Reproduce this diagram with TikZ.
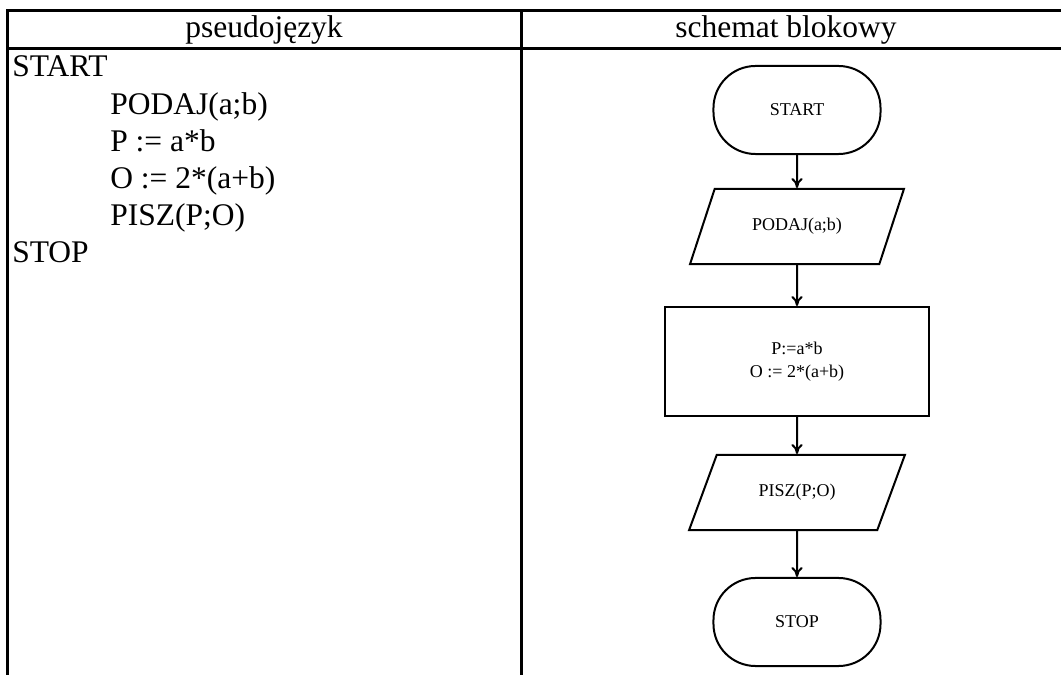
\documentclass[tikz,border=0pt]{standalone}
\usepackage{fontspec}
\setmainfont{Liberation Serif}
\usetikzlibrary{shapes.geometric,arrows.meta}

\tikzset{
  tabela/.style={line width=0.075cm},
  tekst/.style={inner sep=0pt,font=\fontsize{22.4}{26}\selectfont},
  blok/.style={draw,line width=0.05cm,font=\fontsize{12.8}{16}\selectfont,align=center},
  term/.style={blok,rectangle,rounded corners=1.05cm,minimum width=4.175cm,minimum height=2.2cm},
  wewy/.style={blok,trapezium,trapezium left angle=60,trapezium right angle=120,
    trapezium stretches=true,minimum width=5.4cm,minimum height=1.875cm},
  proces/.style={blok,rectangle,minimum width=6.575cm,minimum height=2.725cm},
}

\begin{document}
\begin{tikzpicture}[x=0.025cm,y=-0.025cm]
\useasboundingbox (0,0) rectangle (1061,675);
\begin{scope}[>={To[length=0.25cm,width=0.28cm]}]
% tabela
\draw[tabela] (7.5,675) -- (7.5,11) -- (1061,11);
\draw[tabela] (7.5,49) -- (1061,49);
\draw[tabela] (521,11) -- (521,675);

\node[tekst] (nag1) at (264,30) {pseudojęzyk};
\node[tekst] (nag2) at (786,30) {schemat blokowy};

% pseudojezyk
\node[tekst,anchor=base west] (p1) at (12,77) {START};
\node[tekst,anchor=base west] (p2) at (110,115) {PODAJ(a;b)};
\node[tekst,anchor=base west] (p3) at (110,152) {P := a*b};
\node[tekst,anchor=base west] (p4) at (110,189) {O := 2*(a+b)};
\node[tekst,anchor=base west] (p5) at (110,226) {PISZ(P;O)};
\node[tekst,anchor=base west] (p6) at (12,263) {STOP};

% schemat blokowy
\node[term] (start) at (797,110) {START};
\node[wewy] (podaj) at (797,226.5) {PODAJ(a;b)};
\node[proces] (oblicz) at (797,361.5) {P:=a*b\\ O := 2*(a+b)};
\node[wewy] (pisz) at (797,492.5) {PISZ(P;O)};
\node[term] (stop) at (797,622) {STOP};

\draw[->,line width=0.05cm] (start) -- (podaj);
\draw[->,line width=0.05cm] (podaj) -- (oblicz);
\draw[->,line width=0.05cm] (oblicz) -- (pisz);
\draw[->,line width=0.05cm] (pisz) -- (stop);
\end{scope}
\end{tikzpicture}
\end{document}
